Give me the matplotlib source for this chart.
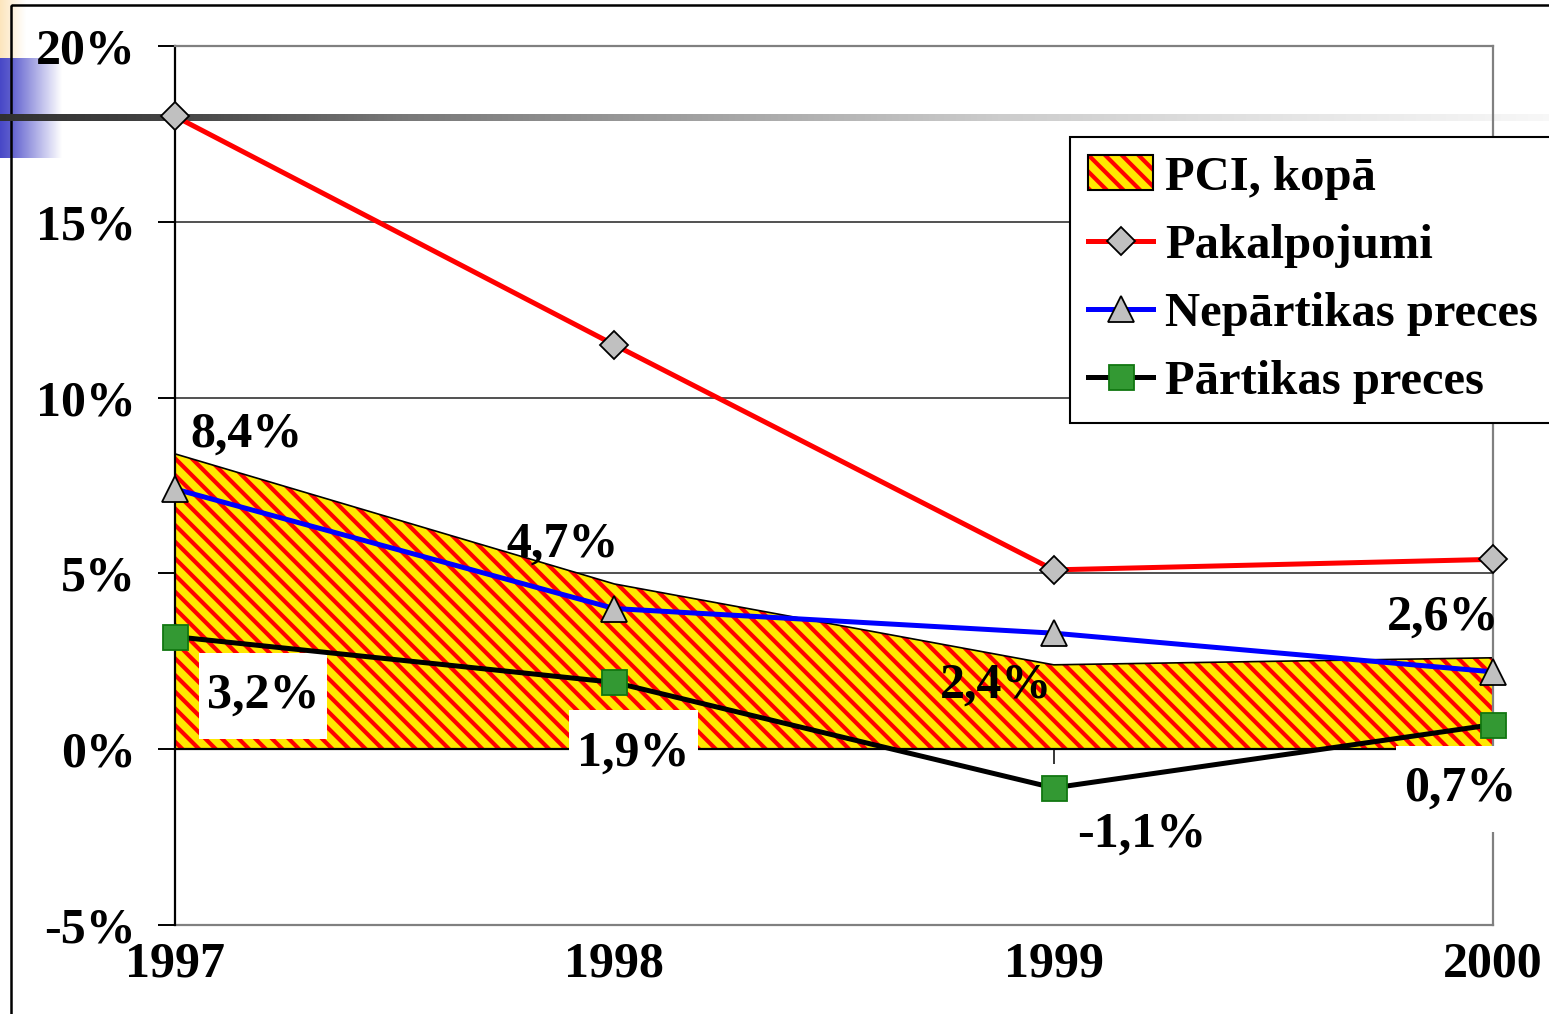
import matplotlib.pyplot as plt
import matplotlib.patches as mpatches
import numpy as np
from matplotlib.path import Path

years = [1997, 1998, 1999, 2000]
pci_total = [8.4, 4.7, 2.4, 2.6]
services = [18.0, 11.5, 5.1, 5.4]
non_food = [7.4, 4.0, 3.3, 2.2]
food = [3.2, 1.9, -1.1, 0.7]
y_ticks = [-5, 0, 5, 10, 15, 20]

names = ["PCI, kopā", "Pakalpojumi", "Nepārtikas preces", "Pārtikas preces"]

# label offsets in pixels (right, down) from the data point
pci_offsets = [(72, -19), (-52, -39), (-58, 21), (-50, -40)]
food_offsets = [(88, 59), (19, 71), (88, 47), (-33, 64)]

plt.rcParams['font.family'] = ['Liberation Serif', 'DejaVu Serif']
plt.rcParams['font.weight'] = 'bold'
plt.rcParams['hatch.linewidth'] = 3.0
FS = 36
HATCH = '\\\\'

W, H = 1549, 1014
fig = plt.figure(figsize=(W / 100, H / 100), dpi=100)
fig.patch.set_facecolor('white')

# slide decorations (pixel coordinates)
deco = fig.add_axes([0, 0, 1, 1], zorder=0)
deco.set_xlim(0, W)
deco.set_ylim(H, 0)
deco.axis('off')


def hgrad(c0, c1, stops=None, n=256):
    c0 = np.array(c0, float)
    c1 = np.array(c1, float)
    t = np.linspace(0, 1, n)
    if stops is not None:
        t = np.interp(t, stops[0], stops[1])
    return (c0[None, :] * (1 - t[:, None]) + c1[None, :] * t[:, None])[None, :, :]


deco.imshow(hgrad([0.99, 0.90, 0.74], [1, 1, 1]), extent=(0, 26, 58, 0), aspect='auto', zorder=1)
deco.imshow(hgrad([0.28, 0.28, 0.78], [1, 1, 1], stops=([0, 0.15, 1], [0, 0.1, 1])),
            extent=(0, 62, 158, 58), aspect='auto', zorder=1)
deco.add_patch(mpatches.Rectangle((11, 5), W + 20, H + 20, fill=False, edgecolor='black',
                                  linewidth=1.8, zorder=2))
g = np.interp(np.linspace(0, W, 512), [0, 175, 400, 1000, 1300, W], [0.19, 0.27, 0.47, 0.8, 0.9, 0.97])
deco.imshow(np.repeat(g[None, :, None], 3, axis=2), extent=(0, W, 121, 114), aspect='auto', zorder=3)


def label_box(x0, y0, width, height, mutation_size):
    px, py = 0.16 * mutation_size, 0.4 * mutation_size
    x0, y0 = x0 - px, y0 - py
    x1, y1 = x0 + width + 2 * px, y0 + height + 2 * py
    return Path([(x0, y0), (x1, y0), (x1, y1), (x0, y1), (x0, y0)],
                [Path.MOVETO, Path.LINETO, Path.LINETO, Path.LINETO, Path.CLOSEPOLY])


# main chart
ax = fig.add_axes([175 / W, 1 - 925 / H, (1493 - 175) / W, (925 - 46) / H], zorder=1)
ax.patch.set_alpha(0)
ax.set_xlim(years[0], years[-1])
ax.set_ylim(-5, 20)

ax.fill_between(years, pci_total, 0, facecolor='#FFE800', edgecolor='red', linewidth=0,
                hatch=HATCH, zorder=1)
ax.plot(years, pci_total, color='black', lw=1.2, zorder=1.5)
ax.plot([years[-1], years[-1]], [0, pci_total[-1]], color='black', lw=1.2, zorder=1.5)

for v in y_ticks[2:]:
    ax.axhline(v, color='#222222', lw=1.1, zorder=0.5)

l1, = ax.plot(years, services, color='#FF0000', lw=3.6, marker='D', ms=14,
              mfc='#C0C0C0', mec='black', mew=1.3, zorder=4, clip_on=False)
l2, = ax.plot(years, non_food, color='#0000FF', lw=3.6, marker='^', ms=19,
              mfc='#C0C0C0', mec='black', mew=1.3, zorder=4, clip_on=False)
l3, = ax.plot(years, food, color='black', lw=3.6, marker='s', ms=18,
              mfc='#339933', mec='#117711', mew=1.3, zorder=4, clip_on=False)

for x, v, (dx, dy) in zip(years, pci_total, pci_offsets):
    ax.annotate(f"{v:.1f}%".replace('.', ','), (x, v), xytext=(dx * 0.72, -dy * 0.72),
                textcoords='offset points', ha='center', va='center', fontsize=FS,
                fontweight='bold', zorder=5)
for x, v, (dx, dy) in zip(years, food, food_offsets):
    ax.annotate(f"{v:.1f}%".replace('.', ','), (x, v), xytext=(dx * 0.72, -dy * 0.72),
                textcoords='offset points', ha='center', va='center', fontsize=FS,
                fontweight='bold', zorder=3.5,
                bbox=dict(boxstyle=label_box, facecolor='white', edgecolor='none'))

# spines and axes
for s in ['top', 'right']:
    ax.spines[s].set_color('#808080')
    ax.spines[s].set_linewidth(1.6)
ax.spines['left'].set_color('black')
ax.spines['left'].set_linewidth(1.6)
ax.spines['bottom'].set_position(('data', 0))
ax.spines['bottom'].set_color('black')
ax.spines['bottom'].set_linewidth(1.6)
ax.set_xticks(years)
ax.tick_params(axis='x', direction='out', length=11, width=1.1, labelbottom=False)

ax.set_yticks(y_ticks)
ax.set_yticklabels([f"{v}%" for v in y_ticks], fontsize=FS, fontweight='bold')
ax.tick_params(axis='y', direction='out', length=12, width=1.4, pad=16)

sec = ax.secondary_xaxis('bottom')
sec.set_xticks(years)
sec.set_xticklabels([str(y) for y in years], fontsize=FS, fontweight='bold')
sec.tick_params(length=0, pad=12)
sec.spines['bottom'].set_color('#808080')
sec.spines['bottom'].set_linewidth(1.6)

# legend
area_h = (mpatches.Patch(facecolor='#FFE800', edgecolor='red', linewidth=0, hatch=HATCH),
          mpatches.Patch(fill=False, edgecolor='black', linewidth=1.5))
leg = ax.legend([area_h, l1, l2, l3], names, loc='upper left',
                bbox_to_anchor=(1070 / W, 1 - 137 / H), bbox_transform=fig.transFigure,
                borderaxespad=0, fontsize=35, frameon=True, fancybox=False, framealpha=1,
                edgecolor='black', handlelength=1.33, handletextpad=0.25, labelspacing=0.5,
                borderpad=0.38, numpoints=1)
leg.get_frame().set_linewidth(1.5)
for t in leg.get_texts():
    t.set_fontweight('bold')

fig.savefig('out.png', dpi=100)
